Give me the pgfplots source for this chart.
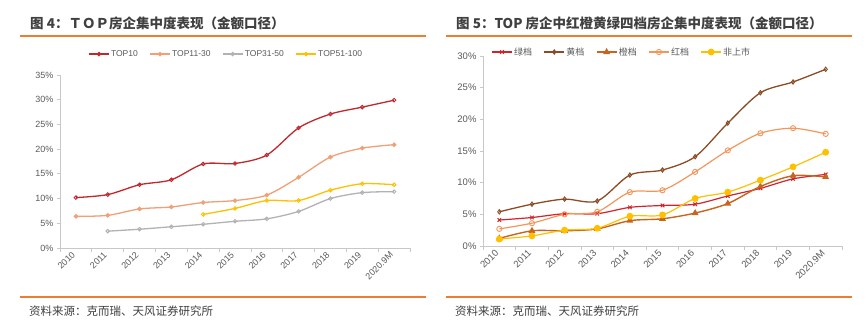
\documentclass[border=0pt]{standalone}
\usepackage{pgfplots}
\pgfplotsset{compat=1.18}
\usepackage{fontspec}
\setmainfont{Liberation Sans}
\newfontfamily\cjk{Noto Sans CJK SC}
\definecolor{axisgrey}{RGB}{200,200,200}
\definecolor{labgrey}{RGB}{89,89,89}
\definecolor{titlegrey}{RGB}{64,64,64}
\definecolor{rule}{RGB}{237,125,49}
\definecolor{ctopten}{RGB}{192,40,45}
\definecolor{ctopthirty}{RGB}{240,160,118}
\definecolor{ctopfifty}{RGB}{178,178,178}
\definecolor{ctophundred}{RGB}{255,192,0}
\definecolor{cgreen}{RGB}{210,35,42}
\definecolor{cyellow}{RGB}{140,75,35}
\definecolor{corange}{RGB}{200,100,30}
\definecolor{cred}{RGB}{244,150,90}
\definecolor{cunlisted}{RGB}{255,192,0}
\pgfplotsset{
  basestyle/.style={
    scale only axis, clip=false,
    axis x line*=bottom, axis y line*=left,
    axis line style={draw=axisgrey, line width=0.8pt},
    xmin=-0.5, xmax=10.5,
    xtick={0,...,10},
    xticklabels={2010,2011,2012,2013,2014,2015,2016,2017,2018,2019,2020.9M},
    minor xtick={-0.5,0.5,...,10.5},
    major x tick style={draw=none},
    minor x tick style={draw=axisgrey, line width=0.8pt},
    ytick style={draw=axisgrey, line width=0.8pt},
    minor tick length=4pt, major tick length=3pt,
    tick align=outside,
    ticklabel style={font=\fontsize{9}{10}\selectfont, text=labgrey},
    xticklabel style={rotate=45, anchor=east},
    yticklabel={\pgfmathprintnumber{\tick}\%},
    /pgf/number format/assume math mode=true,
    legend style={draw=none, fill=none, font=\fontsize{8.5}{10}\selectfont, text=labgrey,
      legend columns=-1,
      /tikz/every even column/.append style={column sep=10pt},
      /tikz/every odd column/.append style={column sep=0pt},
      inner sep=0pt, nodes={inner sep=1.5pt}},
    legend image code/.code={\draw[mark repeat=2,mark phase=2,##1] plot coordinates {(0pt,0pt)(10pt,0pt)(20pt,0pt)};},
  }
}
\begin{document}
\begin{tikzpicture}
\path[use as bounding box] (0,0) rectangle (867pt,329pt);
% titles
\node[anchor=west, text=titlegrey, inner sep=0pt] at (30pt,306pt) {\cjk\bfseries\fontsize{13.5}{15}\selectfont 图 4：ＴＯＰ房企集中度表现（金额口径）};
\node[anchor=west, text=titlegrey, inner sep=0pt] at (456pt,306pt) {\cjk\bfseries\fontsize{13.5}{15}\selectfont 图 5：TOP 房企中红橙黄绿四档房企集中度表现（金额口径）};
\draw[rule, line width=1.2pt] (20pt,293pt) -- (426pt,293pt);
\draw[rule, line width=1.2pt] (446pt,293pt) -- (852pt,293pt);
\draw[rule, line width=1.2pt] (20pt,32pt) -- (426pt,32pt);
\draw[rule, line width=1.2pt] (446pt,32pt) -- (852pt,32pt);
\node[anchor=west, text=titlegrey, inner sep=0pt] at (29pt,18pt) {\cjk\fontsize{11.5}{13}\selectfont 资料来源：克而瑞、天风证券研究所};
\node[anchor=west, text=titlegrey, inner sep=0pt] at (455pt,18pt) {\cjk\fontsize{11.5}{13}\selectfont 资料来源：克而瑞、天风证券研究所};

% left chart
\begin{axis}[basestyle, at={(60pt,81pt)}, anchor=south west, width=350pt, height=173pt,
  ymin=0, ymax=35, ytick={0,5,...,35},
  legend style={at={(axis description cs:0.474,1.121)}, anchor=center}]
\addplot[ctopten, line width=1.3pt, smooth, mark=o, mark size=1.8pt, mark options={fill=white, line width=0.9pt}]
  coordinates {(0,10.2)(1,10.8)(2,12.8)(3,13.8)(4,17.0)(5,17.1)(6,18.8)(7,24.3)(8,27.1)(9,28.5)(10,29.9)};
\addlegendentry{TOP10}
\addplot[ctopthirty, line width=1.3pt, smooth, mark=*, mark size=1.6pt, mark options={fill=ctopthirty}]
  coordinates {(0,6.4)(1,6.6)(2,7.9)(3,8.3)(4,9.2)(5,9.6)(6,10.7)(7,14.3)(8,18.4)(9,20.2)(10,20.9)};
\addlegendentry{TOP11-30}
\addplot[ctopfifty, line width=1.3pt, smooth, mark=o, mark size=1.8pt, mark options={fill=white, line width=0.9pt}]
  coordinates {(1,3.4)(2,3.8)(3,4.3)(4,4.8)(5,5.4)(6,5.9)(7,7.4)(8,10.0)(9,11.2)(10,11.4)};
\addlegendentry{TOP31-50}
\addplot[ctophundred, line width=1.3pt, smooth, mark=o, mark size=1.8pt, mark options={fill=white, line width=0.9pt}]
  coordinates {(4,6.8)(5,8.0)(6,9.6)(7,9.6)(8,11.7)(9,13.0)(10,12.8)};
\addlegendentry{TOP51-100}
\end{axis}

% right chart
\begin{axis}[basestyle, at={(483pt,83pt)}, anchor=south west, width=359pt, height=190pt,
  ymin=0, ymax=30, ytick={0,5,...,30},
  ticklabel style={font=\fontsize{9.5}{10}\selectfont},
  legend style={at={(axis description cs:0.386,1.021)}, anchor=center, font=\cjk\fontsize{9}{10}\selectfont}]
\addplot[cgreen, line width=1.2pt, smooth, mark=x, mark size=2.5pt, mark options={line width=1pt}]
  coordinates {(0,4.1)(1,4.5)(2,5.1)(3,5.1)(4,6.1)(5,6.4)(6,6.6)(7,7.9)(8,9.1)(9,10.6)(10,11.3)};
\addlegendentry{绿档}
\addplot[cyellow, line width=1.3pt, smooth, mark=diamond, mark size=2.2pt, mark options={fill=white, line width=0.9pt}]
  coordinates {(0,5.4)(1,6.6)(2,7.4)(3,7.1)(4,11.2)(5,12.0)(6,14.1)(7,19.4)(8,24.2)(9,25.9)(10,27.9)};
\addlegendentry{黄档}
\addplot[corange, line width=1.4pt, smooth, mark=triangle*, mark size=2.6pt, mark options={fill=corange}]
  coordinates {(0,1.2)(1,2.4)(2,2.4)(3,2.7)(4,4.0)(5,4.3)(6,5.2)(7,6.7)(8,9.4)(9,11.1)(10,10.9)};
\addlegendentry{橙档}
\addplot[cred, line width=1.2pt, smooth, mark=o, mark size=2.6pt, mark options={fill=white, line width=0.9pt}]
  coordinates {(0,2.7)(1,3.6)(2,5.0)(3,5.4)(4,8.5)(5,8.8)(6,11.7)(7,15.1)(8,17.8)(9,18.6)(10,17.7)};
\addlegendentry{红档}
\addplot[cunlisted, line width=1.2pt, smooth, mark=*, mark size=2.8pt, mark options={fill=cunlisted}]
  coordinates {(0,1.1)(1,1.6)(2,2.5)(3,2.8)(4,4.7)(5,4.9)(6,7.5)(7,8.5)(8,10.4)(9,12.5)(10,14.8)};
\addlegendentry{非上市}
\end{axis}
\end{tikzpicture}
\end{document}
